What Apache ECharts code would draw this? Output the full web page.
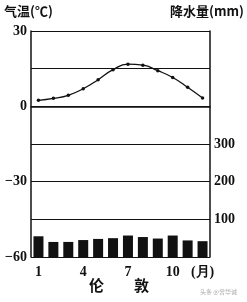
<!DOCTYPE html>
<html>
<head>
<meta charset="utf-8">
<script src="https://cdn.jsdelivr.net/npm/echarts@6/dist/echarts.min.js"></script>
<style>
html,body{margin:0;padding:0;background:#fff;}
#c{width:247px;height:302px;}
</style>
</head>
<body>
<div id="c"></div>
<script>
var months = ['1','2','3','4','5','6','7','8','9','10','11','12'];
var monthLabels = ['1','','','4','','','7','','','10','','(月)'];
var temperature = [2.4, 3.2, 4.4, 7.0, 10.6, 14.6, 16.8, 16.4, 14.2, 11.5, 7.6, 3.3];
var precipitation = [55, 40, 40, 45, 48, 50, 57, 53, 49, 57, 44, 42];
var tempLabels = ['30','0','-30','-60'];
var precLabels = ['100','200','300'];

var numFont = 'Liberation Serif';
var chart = echarts.init(document.getElementById('c'), null, {renderer:'canvas'});
chart.setOption({
  backgroundColor:'#fff',
  animation:false,
  grid:{left:31,right:37,top:31,bottom:45,show:false},
  graphic:[
    {type:'text',left:4,top:5,style:{text:'气温(℃)',font:'bold 13px "Noto Sans CJK SC"',fill:'#111'}},
    {type:'text',left:170,top:5,style:{text:'降水量(mm)',font:'bold 13px "Noto Sans CJK SC"',fill:'#111'}},
    {type:'text',left:89,top:278,style:{text:'伦',font:'bold 15px "Noto Sans CJK SC"',fill:'#111'}},
    {type:'text',left:134,top:278,style:{text:'敦',font:'bold 15px "Noto Sans CJK SC"',fill:'#111'}},
    {type:'text',left:200,top:289,style:{text:'头条 @曾华诚',font:'6px "Noto Sans CJK SC"',fill:'#aaa'}}
  ],
  xAxis:{
    type:'category',data:months,boundaryGap:true,
    axisLine:{show:true,lineStyle:{color:'#111',width:1.5}},
    axisTick:{show:false},
    axisLabel:{interval:0,margin:8,color:'#111',fontFamily:numFont,fontWeight:'bold',fontSize:14,
      formatter:function(v,i){return monthLabels[i];}}
  },
  yAxis:[
    {type:'value',min:-60,max:30,interval:15,position:'left',
     axisLine:{show:true,lineStyle:{color:'#111',width:1.5}},
     axisTick:{show:false},
     splitLine:{show:true,lineStyle:{color:'#111',width:1.2}},
     axisLabel:{margin:4,color:'#111',fontFamily:numFont,fontWeight:'bold',fontSize:14,
       formatter:function(v){var s=String(v);return tempLabels.indexOf(s)>=0?s.replace('-','−'):'';}}
    },
    {type:'value',min:0,max:600,interval:100,position:'right',
     axisLine:{show:true,lineStyle:{color:'#111',width:1.5}},
     axisTick:{show:false},
     splitLine:{show:false},
     axisLabel:{margin:4,color:'#111',fontFamily:numFont,fontWeight:'bold',fontSize:14,
       formatter:function(v){var s=String(v);return precLabels.indexOf(s)>=0?s:'';}}
    }
  ],
  series:[
    {type:'bar',yAxisIndex:1,data:precipitation,barWidth:10,itemStyle:{color:'#111'}},
    {type:'line',yAxisIndex:0,data:temperature,smooth:true,symbol:'circle',symbolSize:3.5,
     lineStyle:{color:'#111',width:1.3},itemStyle:{color:'#111'}}
  ]
});
</script>
</body>
</html>
